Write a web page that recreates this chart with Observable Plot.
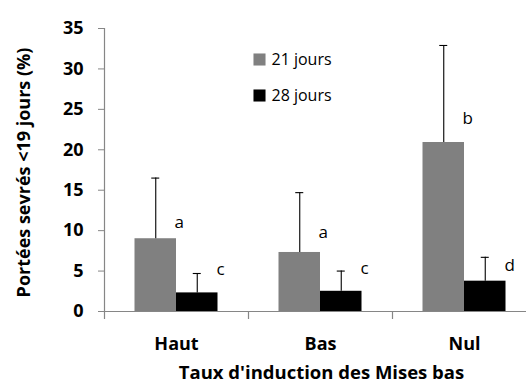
<!DOCTYPE html>
<html>
<head>
<meta charset="utf-8">
<script src="https://cdn.jsdelivr.net/npm/d3@7"></script>
<script src="https://cdn.jsdelivr.net/npm/@observablehq/plot@0.6"></script>
<style>
  html, body { margin: 0; padding: 0; background: #fff; }
  #chart { width: 526px; height: 381px; }
</style>
</head>
<body>
<div id="chart"></div>
<script>
// ---- data ----
const categories = ["Haut", "Bas", "Nul"];
const series = ["21 jours", "28 jours"];
const mean21 = [9.0, 7.3, 20.9];
const err21 = [7.5, 7.4, 12.0];
const mean28 = [2.3, 2.5, 3.75];
const err28 = [2.4, 2.5, 2.95];
const letters21 = ["a", "a", "b"];
const letters28 = ["c", "c", "d"];
const letterY21 = [11.0, 9.8, 23.9];
const letterY28 = [5.2, 5.3, 5.7];
const yTicks = [0, 5, 10, 15, 20, 25, 30, 35];
const yTitle = "Portées sevrés <19 jours (%)";
const xTitle = "Taux d'induction des Mises bas";

// ---- build table ----
const means = [mean21, mean28], errs = [err21, err28];
const letters = [letters21, letters28], letterYs = [letterY21, letterY28];
const rows = categories.flatMap((c, i) => series.map((s, k) => ({
  cat: c, series: s, mean: means[k][i], err: errs[k][i],
  letter: letters[k][i], letterY: letterYs[k][i]
})));

// ---- layout / style ----
const W = 526, H = 381;
const mL = 104, mT = 28, mB = 70;
const xEnd = 536;
const band = (xEnd - mL) / categories.length;
const barW = 41.5;
const barInset = band / 2 - barW / 2;
const offs = [-barW / 2, barW / 2];
const letterDx = [-2, 40];
const colors = ["#808080", "#000000"];
const axisColor = "#868686";
const font = "'Open Sans', Lato, sans-serif";

const marks = [];
series.forEach((s, k) => {
  const d = rows.filter(r => r.series === s);
  marks.push(Plot.barY(d, {x: "cat", y: "mean", fill: "series", insetLeft: barInset, insetRight: barInset, dx: offs[k]}));
  marks.push(Plot.ruleX(d, {x: "cat", y1: "mean", y2: r => r.mean + r.err, stroke: "#000", strokeWidth: 1.1, dx: offs[k]}));
  marks.push(Plot.tickY(d, {x: "cat", y: r => r.mean + r.err, stroke: "#000", strokeWidth: 1.1, insetLeft: band / 2 - 4, insetRight: band / 2 - 4, dx: offs[k]}));
  marks.push(Plot.text(d, {x: "cat", y: "letterY", text: "letter", textAnchor: "start", lineAnchor: "middle", fontSize: 17, fill: "#000", dx: letterDx[k]}));
  // legend
  marks.push(Plot.dot([s], {frameAnchor: "top-left", dx: 155, dy: 31 + k * 36, symbol: "square", r: 6.8, fill: colors[k], stroke: null}));
  marks.push(Plot.text([s], {frameAnchor: "top-left", dx: 167, dy: 31 + k * 36, text: t => t, textAnchor: "start", lineAnchor: "middle", fontSize: 16, fill: "#000"}));
});

// axes
marks.push(Plot.ruleY([0], {stroke: axisColor, strokeWidth: 1.2}));
marks.push(Plot.ruleX(categories, {x: c => c, dx: -band / 2, y1: c => c === categories[0] ? yTicks[yTicks.length - 1] : 0, y2: 0, insetBottom: -8, stroke: axisColor, strokeWidth: 1.2}));
marks.push(Plot.axisY({ticks: yTicks, tickSize: 6, tickPadding: 15, stroke: axisColor, fill: "#000", fontSize: 18, fontWeight: "bold", label: null}));
marks.push(Plot.axisX({tickSize: 0, tickPadding: 26, fill: "#000", fontSize: 18, fontWeight: "bold", label: null}));
marks.push(Plot.text([xTitle], {frameAnchor: "bottom", dx: 6, dy: 62, text: t => t, textAnchor: "middle", lineAnchor: "middle", fontSize: 18.5, fontWeight: "bold", fill: "#000"}));
marks.push(Plot.text([yTitle], {frameAnchor: "left", dx: -80.5, dy: 2.5, rotate: -90, text: t => t, textAnchor: "middle", lineAnchor: "middle", fontSize: 18, fontWeight: "bold", fill: "#000"}));

const chart = Plot.plot({
  width: W, height: H,
  marginLeft: mL, marginRight: 0, marginTop: mT, marginBottom: mB,
  style: {fontFamily: font, background: "#fff", overflow: "visible"},
  x: {domain: categories, range: [mL, xEnd], padding: 0},
  y: {domain: [0, 35]},
  color: {domain: series, range: colors},
  marks
});
document.getElementById("chart").append(chart);
</script>
</body>
</html>
